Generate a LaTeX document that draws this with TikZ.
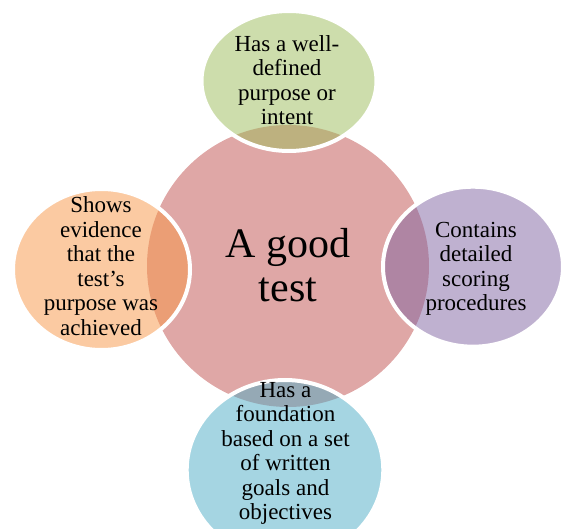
\documentclass[tikz,border=0pt]{standalone}
\usepackage{fontspec}
\setmainfont{Liberation Serif}
\usetikzlibrary{shapes.geometric}
\definecolor{cred}{HTML}{C0504D}
\definecolor{cgreen}{HTML}{9BBB59}
\definecolor{cpurple}{HTML}{8064A2}
\definecolor{corange}{HTML}{F79646}
\definecolor{caqua}{HTML}{4BACC6}
\begin{document}
\begin{tikzpicture}[x=1pt,y=-1pt,
  hubshape/.style={ellipse, inner sep=0pt, outer sep=0pt, draw=none, fill opacity=0.5},
  blob/.style={ellipse, inner sep=0pt, outer sep=0pt, draw=white, line width=4pt, fill opacity=0.5},
  sattext/.style={align=center, font=\fontsize{23}{24.5}\selectfont, text=black, inner sep=0pt},
  centertext/.style={align=center, font=\fontsize{42}{44}\selectfont, text=black, inner sep=0pt}]
\useasboundingbox (0,0) rectangle (563,529);
\node[hubshape, fill=cred, minimum width=282pt, minimum height=282pt] (hub) at (288,266) {};
\node[blob, fill=cgreen, minimum width=175pt, minimum height=140pt] (top) at (289,81) {};
\node[blob, fill=cpurple, minimum width=180pt, minimum height=160pt] (right) at (473,266.7) {};
\node[blob, fill=caqua, minimum width=196.6pt, minimum height=180pt] (bottom) at (285,470) {};
\node[blob, fill=corange, minimum width=177pt, minimum height=161pt] (left) at (101.5,269.5) {};
\node[centertext] (hubtext) at (288,265) {A good\\test};
\node[sattext] (toptext) at (287,80) {Has a well-\\defined\\purpose or\\intent};
\node[sattext] (righttext) at (476,269) {Contains\\detailed\\scoring\\procedures};
\node[sattext] (bottomtext) at (285.5,453.5) {Has a\\foundation\\based on a set\\of written\\goals and\\objectives};
\node[sattext] (lefttext) at (101,266.3) {Shows\\evidence\\that the\\test’s\\purpose was\\achieved};
\end{tikzpicture}
\end{document}
